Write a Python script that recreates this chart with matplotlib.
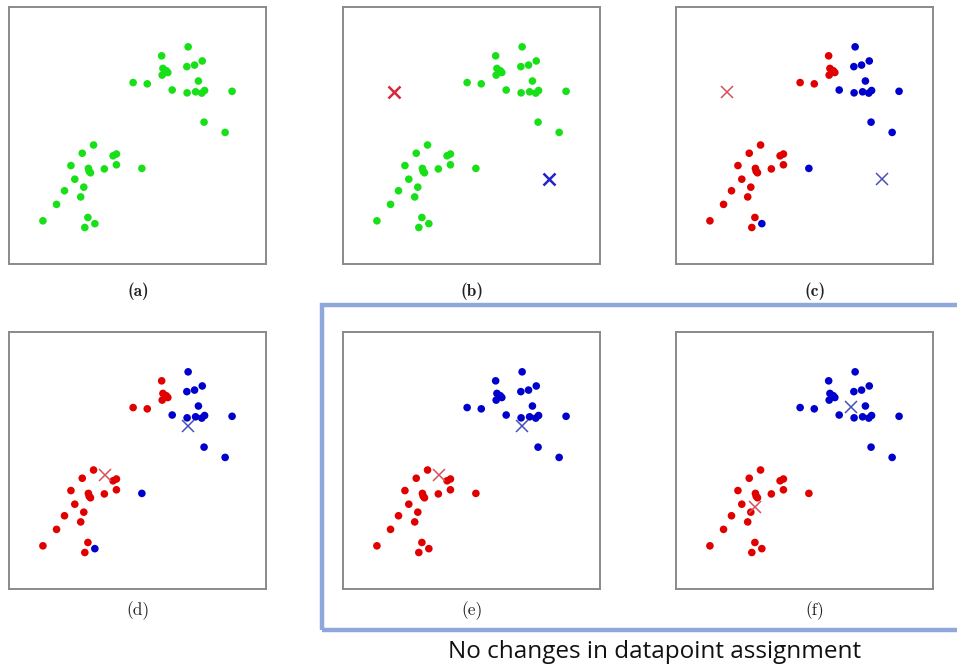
import numpy as np
import matplotlib.pyplot as plt
from matplotlib.patches import Rectangle

# data points (same 40 points in every panel)
xs = np.array([69.7, 59.4, 75.2, 72.2, 69.2, 59.9, 61.2, 61.8, 59.6, 73.7,
               48.3, 53.8, 63.5, 69.3, 72.6, 75.0, 76.1, 86.8, 75.9, 84.1,
               32.9, 28.5, 40.5, 41.8, 24.1, 41.8, 30.9, 31.2, 31.7, 37.1,
               51.7, 25.6, 29.1, 21.6, 27.9, 18.5, 13.2, 30.7, 33.4, 29.5])
ys = np.array([84.5, 81.0, 79.0, 77.4, 76.8, 76.1, 75.2, 74.5, 73.5, 71.2,
               70.6, 70.1, 67.7, 66.6, 67.0, 66.5, 67.5, 67.2, 55.2, 51.2,
               46.3, 43.1, 42.1, 42.8, 38.3, 38.6, 37.2, 36.1, 35.5, 37.0,
               37.2, 33.0, 29.9, 28.5, 26.1, 23.2, 16.8, 18.1, 15.7, 14.2])

# cluster index per point after the first assignment step (0 = red, 1 = blue)
assign_1 = np.array([1, 0, 1, 1, 1, 0, 0, 0, 0, 1,
                     0, 0, 1, 1, 1, 1, 1, 1, 1, 1,
                     0, 0, 0, 0, 0, 0, 0, 0, 0, 0,
                     1, 0, 0, 0, 0, 0, 0, 0, 1, 0])
# after the second assignment step
assign_2 = np.array([1] * 20 + [0] * 20)

# centroid positions (red, blue)
cent_init = [(19.8, 66.9), (80.0, 32.9)]
cent_upd1 = [(37.4, 44.5), (69.7, 63.4)]
cent_upd2 = [(30.9, 32.0), (68.0, 71.0)]

dot_cols = np.array(['#e00000', '#0000cc'])

panels = [
    ('(a)', None, None, True),
    ('(b)', None, cent_init, True),
    ('(c)', assign_1, cent_init, True),
    ('(d)', assign_1, cent_upd1, False),
    ('(e)', assign_2, cent_upd1, False),
    ('(f)', assign_2, cent_upd2, False),
]

W, H = 957, 668
fig = plt.figure(figsize=(W / 100, H / 100), dpi=100)

lefts = [9, 343, 676]
tops = [7, 332]
size = 257
label_y = [291, 611]
label_x = [138, 472, 815]

for i, (lab, assign, cents, bold) in enumerate(panels):
    r, c = divmod(i, 3)
    ax = fig.add_axes([lefts[c] / W, 1 - (tops[r] + size) / H, size / W, size / H])
    ax.set_xlim(0, 100)
    ax.set_ylim(0, 100)
    ax.set_xticks([])
    ax.set_yticks([])
    for s in ax.spines.values():
        s.set_color('#8a8a8a')
        s.set_linewidth(1.4)

    if assign is None:
        cols = '#18e018'
    else:
        cols = dot_cols[assign]
    ax.scatter(xs, ys, s=30, c=cols, edgecolors='none', zorder=2)

    if cents is not None:
        if i == 1:
            xc = ['#d42a3a', '#2323c8']
            lw = 1.8
        else:
            xc = ['#d9505a', '#4850b8']
            lw = 1.1
        for (cx, cy), col in zip(cents, xc):
            ax.plot(cx, cy, marker='x', ms=8, mew=lw, color=col, zorder=3)

    fig.text(label_x[c] / W, 1 - label_y[r] / H, lab, ha='center', va='center',
             fontsize=12.5, family='cmb10' if bold else 'cmr10', color='#222222')

# frame around the last two panels
fig.patches.append(Rectangle((322 / W, 1 - 630 / H), 700 / W, 325 / H,
                             transform=fig.transFigure, fill=False,
                             edgecolor='#8ea8dc', linewidth=3.2))

fig.text(655 / W, 1 - 652 / H, 'No changes in datapoint assignment',
         ha='center', va='center', fontsize=17.5, family='Open Sans', color='#111111')

fig.savefig('out.png', dpi=100)
